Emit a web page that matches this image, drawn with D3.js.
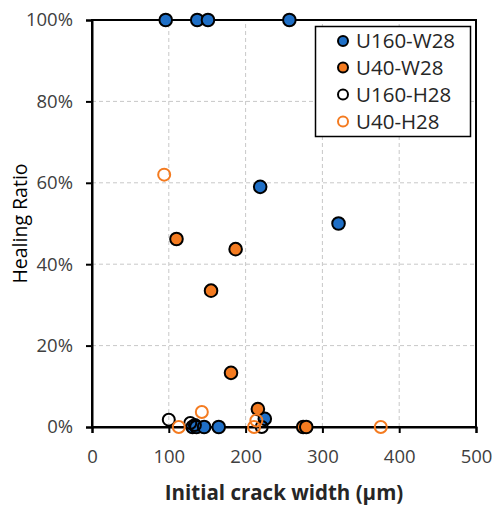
<!DOCTYPE html>
<html><head><meta charset="utf-8">
<script src="https://cdn.jsdelivr.net/npm/d3@7/dist/d3.min.js"></script>
<style>body{margin:0;background:#fff}svg{display:block}text{font-family:"Open Sans","Liberation Sans",sans-serif}</style>
</head><body>
<svg id="c" width="494" height="505"></svg>
<script>
const seriesNames = ["U160-W28","U40-W28","U160-H28","U40-H28"];
const u160W28 = [[96,100],[137,100],[151,100],[257,100],[219,59],[321,50],[131,0],[136,0],[146,0],[165,0],[225,2]];
const u40W28 = [[110,46.2],[187,43.7],[155,33.5],[181,13.3],[216,4.4],[275,0],[279,0]];
const u160H28 = [[100,1.8],[128,1],[134,0.5],[221,0]];
const u40H28 = [[94,62],[113,0],[143,3.7],[214,1.6],[211,0],[376,0]];
const xTicks = [0,100,200,300,400,500];
const yTicks = [0,20,40,60,80,100];

const svg = d3.select("#c");
const x = d3.scaleLinear().domain([0,500]).range([92,476]);
const y = d3.scaleLinear().domain([0,100]).range([427,20]);
const fs = 18.5;
const ff = "'Open Sans','Liberation Sans',sans-serif";

// grid
svg.append("g").selectAll("line").data(xTicks.slice(1,-1)).join("line")
  .attr("x1",d=>x(d)).attr("x2",d=>x(d)).attr("y1",y(0)).attr("y2",y(100))
  .attr("stroke","#c8c8c8").attr("stroke-dasharray","4,3").attr("stroke-width",1);
svg.append("g").selectAll("line").data(yTicks.slice(1,-1)).join("line")
  .attr("y1",d=>y(d)).attr("y2",d=>y(d)).attr("x1",x(0)).attr("x2",x(500))
  .attr("stroke","#c8c8c8").attr("stroke-dasharray","4,3").attr("stroke-width",1);

// frame
svg.append("rect").attr("x",x(0)).attr("y",y(100)).attr("width",x(500)-x(0)).attr("height",y(0)-y(100))
  .attr("fill","none").attr("stroke","#000").attr("stroke-width",2);

// axes
const xa = svg.append("g").attr("transform",`translate(0,${y(0)})`)
  .call(d3.axisBottom(x).tickValues(xTicks).tickSize(6).tickPadding(17));
const ya = svg.append("g").attr("transform",`translate(${x(0)},0)`)
  .call(d3.axisLeft(y).tickValues(yTicks).tickFormat(d=>d+"%").tickSize(6).tickPadding(13));
[xa,ya].forEach(a=>{
  a.select(".domain").attr("stroke","#000").attr("stroke-width",2);
  a.selectAll(".tick line").attr("stroke","#000").attr("stroke-width",2);
  a.selectAll(".tick text").attr("font-size",fs).attr("fill","#404040").style("font-family",ff);
});

// points
const blue = "#1F6FC6", orange = "#F47B20";
function filled(data, color){
  svg.append("g").selectAll("circle").data(data).join("circle")
    .attr("cx",d=>x(d[0])).attr("cy",d=>y(d[1])).attr("r",6.3)
    .attr("fill",color).attr("stroke","#000").attr("stroke-width",2);
}
function open(data, color){
  svg.append("g").selectAll("circle").data(data).join("circle")
    .attr("cx",d=>x(d[0])).attr("cy",d=>y(d[1])).attr("r",6)
    .attr("fill","none").attr("stroke",color).attr("stroke-width",2);
}
filled(u160W28, blue);
filled(u40W28, orange);
open(u160H28, "#000");
open(u40H28, orange);

// axis titles
svg.append("text").attr("x",284).attr("y",500).attr("text-anchor","middle")
  .attr("font-size",20.5).attr("font-weight","bold").attr("fill","#262626").text("Initial crack width (μm)");
svg.append("text").attr("transform",`translate(27,${(y(0)+y(100))/2}) rotate(-90)`).attr("text-anchor","middle")
  .attr("font-size",19.5).attr("fill","#000").text("Healing Ratio");

// legend
const lg = svg.append("g");
lg.append("rect").attr("x",315.5).attr("y",26.5).attr("width",155).attr("height",110)
  .attr("fill","#fff").attr("stroke","#000").attr("stroke-width",1.5);
const ly = [41,67.5,94.5,121.5];
const styles = [{f:blue,s:"#000"},{f:orange,s:"#000"},{f:"none",s:"#000"},{f:"none",s:orange}];
seriesNames.forEach((n,i)=>{
  lg.append("circle").attr("cx",343).attr("cy",ly[i]).attr("r",5)
    .attr("fill",styles[i].f).attr("stroke",styles[i].s).attr("stroke-width",2);
  lg.append("text").attr("x",356).attr("y",ly[i]).attr("dy","0.36em")
    .attr("font-size",20.5).attr("fill","#262626").text(n);
});
</script>
</body></html>
